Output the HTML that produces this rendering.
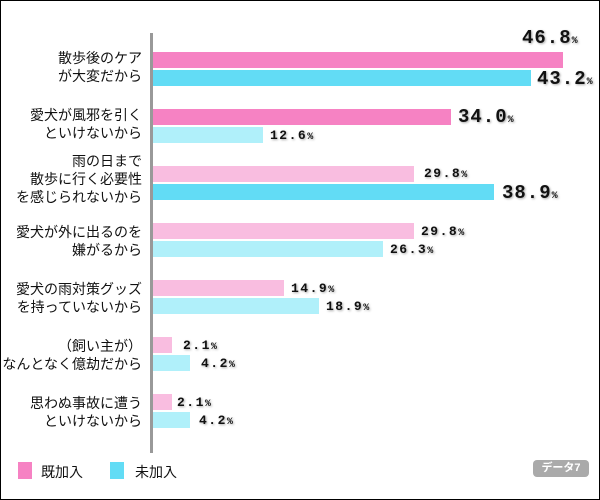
<!DOCTYPE html><html><head><meta charset="utf-8"><style>
body{margin:0;width:600px;height:500px;overflow:hidden;background:#fff;font-family:"Liberation Sans","Noto Sans CJK JP",sans-serif}
#f{position:absolute;left:0;top:0;width:598px;height:498px;border:1px solid #000}
.ax{position:absolute;left:150px;top:33px;width:3px;height:420px;background:#999}
.b{position:absolute;left:153px;height:16px}
.P{background:#f682c3}.p{background:#f9bde0}.C{background:#62dcf5}.c{background:#b0f0fa}
.v{position:absolute;font-family:"Liberation Mono",monospace;font-weight:bold;color:#111;text-shadow:1px 1px 2px #aaa;white-space:nowrap;line-height:16px}
.L{font-size:19px;letter-spacing:1px}.s{font-size:13px;letter-spacing:1.5px}
.v small{font-size:10px;letter-spacing:0}
.lb{position:absolute;right:458px;text-align:right;font-size:14px;line-height:18px;color:#111;white-space:nowrap}
.sq{position:absolute;width:14px;height:17px;top:462px}
.lt{position:absolute;top:462px;font-size:14px;color:#111}
.bd{position:absolute;left:533px;top:460px;width:56px;height:17px;background:#aaa;border-radius:4px;color:#fff;font-size:11px;font-weight:bold;text-align:center;line-height:17px}
</style></head><body><div id="f"></div><div class="ax"></div>
<div class="lb" style="top:49px">散歩後のケア<br>が大変だから</div>
<div class="lb" style="top:106px">愛犬が風邪を引く<br>といけないから</div>
<div class="lb" style="top:152px">雨の日まで<br>散歩に行く必要性<br>を感じられないから</div>
<div class="lb" style="top:223px">愛犬が外に出るのを<br>嫌がるから</div>
<div class="lb" style="top:280px">愛犬の雨対策グッズ<br>を持っていないから</div>
<div class="lb" style="top:337px">（飼い主が）<br>なんとなく億劫だから</div>
<div class="lb" style="top:394px">思わぬ事故に遭う<br>といけないから</div>
<div class="b P" style="top:52px;width:410px"></div><div class="v L" style="left:522px;top:30px">46.8<small>%</small></div>
<div class="b C" style="top:70px;width:378px"></div><div class="v L" style="left:537px;top:71px">43.2<small>%</small></div>
<div class="b P" style="top:109px;width:298px"></div><div class="v L" style="left:458px;top:109px">34.0<small>%</small></div>
<div class="b c" style="top:127px;width:110px"></div><div class="v s" style="left:270px;top:128px">12.6<small>%</small></div>
<div class="b p" style="top:166px;width:261px"></div><div class="v s" style="left:424px;top:166px">29.8<small>%</small></div>
<div class="b C" style="top:184px;width:341px"></div><div class="v L" style="left:502px;top:185px">38.9<small>%</small></div>
<div class="b p" style="top:223px;width:261px"></div><div class="v s" style="left:421px;top:224px">29.8<small>%</small></div>
<div class="b c" style="top:241px;width:230px"></div><div class="v s" style="left:390px;top:242px">26.3<small>%</small></div>
<div class="b p" style="top:280px;width:131px"></div><div class="v s" style="left:291px;top:281px">14.9<small>%</small></div>
<div class="b c" style="top:298px;width:166px"></div><div class="v s" style="left:326px;top:299px">18.9<small>%</small></div>
<div class="b p" style="top:337px;width:19px"></div><div class="v s" style="left:183px;top:338px">2.1<small>%</small></div>
<div class="b c" style="top:355px;width:37px"></div><div class="v s" style="left:201px;top:356px">4.2<small>%</small></div>
<div class="b p" style="top:394px;width:19px"></div><div class="v s" style="left:177px;top:395px">2.1<small>%</small></div>
<div class="b c" style="top:412px;width:37px"></div><div class="v s" style="left:199px;top:413px">4.2<small>%</small></div>
<div class="sq P" style="left:18px"></div><div class="lt" style="left:41px">既加入</div>
<div class="sq C" style="left:110px"></div><div class="lt" style="left:135px">未加入</div>
<div class="bd">データ7</div>
</body></html>
